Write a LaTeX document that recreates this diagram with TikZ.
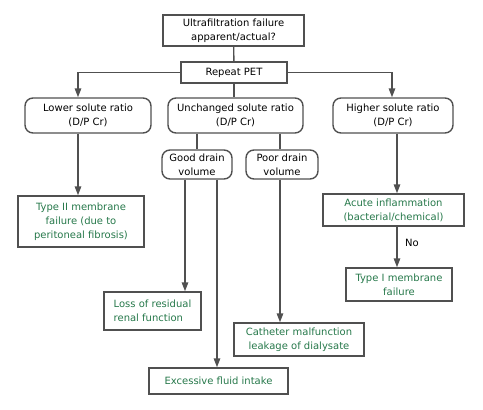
\documentclass[tikz,border=0pt]{standalone}
\usepackage{fontspec}
\setmainfont{DejaVu Sans}
\usepackage{xcolor}
\definecolor{g}{RGB}{38,120,74}
\definecolor{ln}{RGB}{80,80,80}
\usepackage{tikz}
\usetikzlibrary{arrows.meta, positioning, calc}
\tikzstyle{block} = [draw=ln, line width=1.4pt, rectangle, inner sep=2pt, align=center, font=\fontsize{10}{14}\selectfont]
\tikzstyle{rblock} = [block, rounded corners=8pt]
\tikzstyle{gblock} = [block, text=g]
\tikzstyle{arr} = [draw=ln, line width=1.4pt, -{Triangle[length=9pt,width=6.5pt]}]
\tikzstyle{ln} = [draw=ln, line width=1.4pt]

\begin{document}
\begin{tikzpicture}[x=1pt, y=-1pt]
    \useasboundingbox (0,0) rectangle (483,410);
    % question and test
    \node[block, minimum width=141pt, minimum height=31pt] (uf) at (233.5,30.5)
    {Ultrafiltration failure\\apparent/actual?};
    \node[block, minimum width=106pt, minimum height=21pt] (pet) at (234,72.5)
    {Repeat PET};
    
    % solute ratios
    \node[rblock, minimum width=126pt, minimum height=35pt] (lower) at (88,115.5)
    {Lower solute ratio\\(D/P Cr)};
    \node[rblock, minimum width=135pt, minimum height=35pt] (unch) at (235.5,115.5)
    {Unchanged solute ratio\\(D/P Cr)};
    \node[rblock, minimum width=120pt, minimum height=35pt] (higher) at (393,115.5)
    {Higher solute ratio\\(D/P Cr)};
    
    % drain volume
    \node[rblock, minimum width=70pt, minimum height=29pt] (good) at (197,164.5)
    {Good drain\\volume};
    \node[rblock, minimum width=72pt, minimum height=29pt] (poor) at (282,164.5)
    {Poor drain\\volume};
    
    % outcomes
    \node[gblock, minimum width=126pt, minimum height=51pt] (type2) at (81,221.5)
    {Type II membrane\\failure (due to\\peritoneal fibrosis)};
    \node[gblock, minimum width=141pt, minimum height=32pt] (acute) at (393.5,210)
    {Acute inflammation\\(bacterial/chemical)};
    \node[gblock, minimum width=106pt, minimum height=33pt] (type1) at (399,284.5)
    {Type I membrane\\failure};
    \node[gblock, align=left, minimum width=97pt, minimum height=38pt] (loss) at (152.5,311)
    {Loss of residual\\renal function};
    \node[gblock, minimum width=130pt, minimum height=33pt] (cath) at (299,339.5)
    {Catheter malfunction\\leakage of dialysate};
    \node[gblock, minimum width=139pt, minimum height=26pt] (excess) at (218.5,381)
    {Excessive fluid intake};
    
    % connectors
    \draw[ln] (uf) -- (pet);
    \draw[ln] (pet) -- (pet.south |- unch.north);
    \draw[arr] (pet.west) -| ([xshift=-10pt]lower.north);
    \draw[arr] (pet.east) -| ([xshift=-1pt]higher.north);
    \draw[ln] (unch.south -| good.north) -- (good.north);
    \draw[ln] ([xshift=-2pt]unch.south -| poor.north) -- ([xshift=-2pt]poor.north);
    \draw[arr] ([xshift=-10pt]lower.south) -- ([xshift=-10pt]lower.south |- type2.north);
    \draw[arr] ([xshift=-12pt]good.south) -- ([xshift=-12pt]good.south |- loss.north);
    \draw[arr] ([xshift=20pt]good.south) -- ([xshift=20pt]good.south |- excess.north);
    \draw[arr] ([xshift=-2pt]poor.south) -- ([xshift=-2pt]poor.south |- cath.north);
    \draw[arr] ([xshift=4pt]higher.south) -- ([xshift=4pt]higher.south |- acute.north);
    \draw[arr] ([xshift=3.5pt]acute.south) -- ([xshift=3.5pt]acute.south |- type1.north)
    node[pos=0.4, right=4pt, font=\fontsize{10}{12}\selectfont] (no) {No};
\end{tikzpicture}
\end{document}
